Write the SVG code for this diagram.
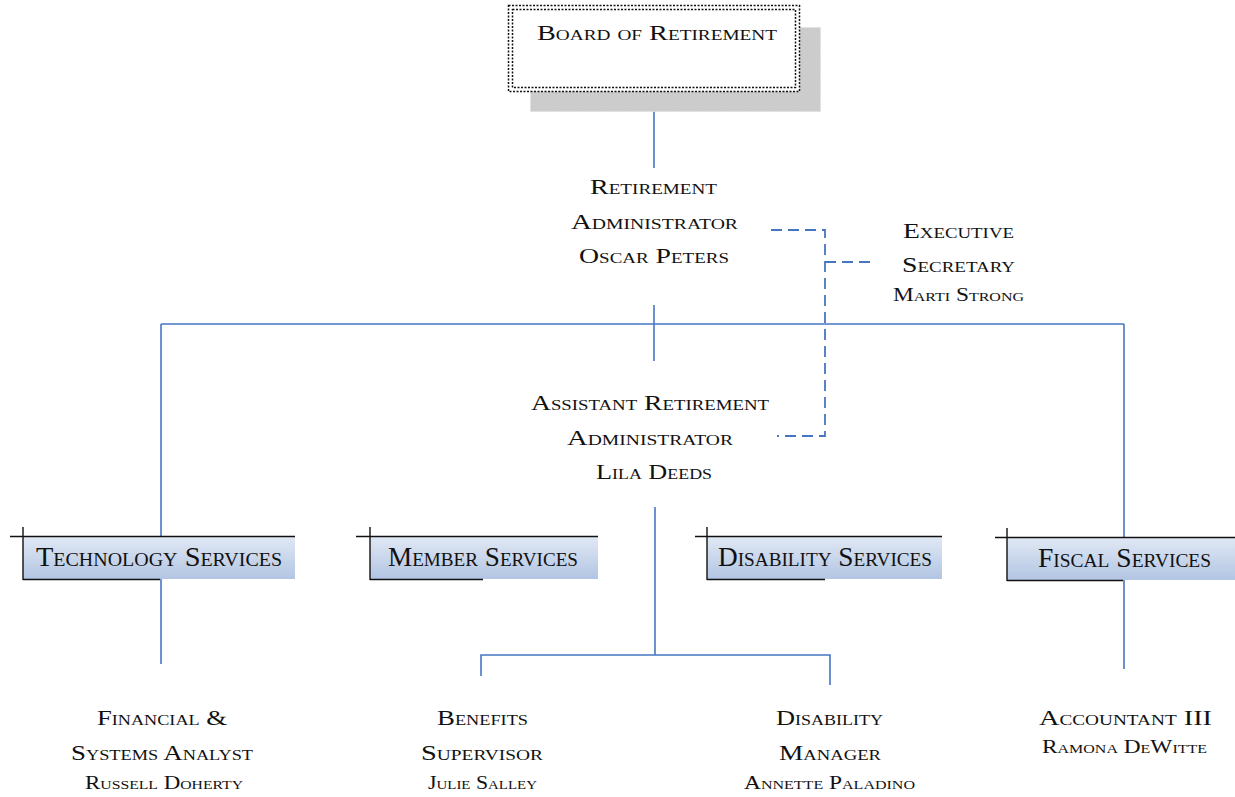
<svg xmlns="http://www.w3.org/2000/svg" width="1235" height="797" viewBox="0 0 1235 797">
<defs>
<linearGradient id="svc" x1="0" y1="0" x2="0" y2="1">
<stop offset="0" stop-color="#e0e8f4"/>
<stop offset="1" stop-color="#b2c5e3"/>
</linearGradient>
<style>
text{font-family:"Liberation Serif","Times New Roman",serif;font-variant:small-caps;fill:#111;}
.t{font-size:22px;}
.s{font-size:19px;}
.h{font-size:27px;}
.c{stroke:#4676c2;stroke-width:1.6;fill:none;}
.d{stroke:#4676c2;stroke-width:1.8;fill:none;stroke-dasharray:11,6;}
.k{stroke:#111;stroke-width:1.4;fill:none;}
.g{fill:url(#svc);}
</style>
</defs>
<rect width="1235" height="797" fill="#fff"/>
<g id="connectors">
<line class="c" x1="654" y1="92" x2="654" y2="168"/>
<line class="c" x1="654" y1="305" x2="654" y2="361"/>
<line class="c" x1="161" y1="324" x2="1124" y2="324"/>
<line class="c" x1="161" y1="324" x2="161" y2="664"/>
<line class="c" x1="1124" y1="324" x2="1124" y2="669"/>
<line class="c" x1="655" y1="507" x2="655" y2="655"/>
<polyline class="c" points="481,676 481,655 830,655 830,685"/>
<polyline class="d" points="771,230 825,230 825,436 777,436"/>
<line class="d" x1="825" y1="262" x2="874" y2="262"/>
</g>
<g id="board">
<rect x="530.5" y="27.5" width="290" height="84" fill="#cccccc" stroke="#e0e0e0" stroke-dasharray="2,1"/>
<rect x="508.5" y="5.5" width="291" height="86" fill="#fff" stroke="#111" stroke-width="1.5" stroke-dasharray="2,1.5"/>
<rect x="512.5" y="9.5" width="283" height="78" fill="none" stroke="#111" stroke-width="1.5" stroke-dasharray="2,1.5"/>
<text class="t" x="537" y="40" textLength="240" lengthAdjust="spacingAndGlyphs">Board of Retirement</text>
</g>
<g id="retirement-administrator">
<text class="t" x="590" y="194" textLength="127" lengthAdjust="spacingAndGlyphs">Retirement</text>
<text class="t" x="571" y="229" textLength="167" lengthAdjust="spacingAndGlyphs">Administrator</text>
<text class="t" x="579" y="263" textLength="150" lengthAdjust="spacingAndGlyphs">Oscar Peters</text>
</g>
<g id="executive-secretary">
<text class="t" x="903" y="238" textLength="111" lengthAdjust="spacingAndGlyphs">Executive</text>
<text class="t" x="902" y="272" textLength="113" lengthAdjust="spacingAndGlyphs">Secretary</text>
<text class="s" x="893" y="301" textLength="131" lengthAdjust="spacingAndGlyphs">Marti Strong</text>
</g>
<g id="assistant-administrator">
<text class="t" x="531" y="410" textLength="238" lengthAdjust="spacingAndGlyphs">Assistant Retirement</text>
<text class="t" x="567" y="445" textLength="166" lengthAdjust="spacingAndGlyphs">Administrator</text>
<text class="t" x="596" y="479" textLength="116" lengthAdjust="spacingAndGlyphs">Lila Deeds</text>
</g>
<g id="technology-services">
<rect class="g" x="23" y="537" width="272" height="42"/>
<line class="k" x1="10" y1="536.5" x2="295" y2="536.5"/>
<line class="k" x1="23" y1="527" x2="23" y2="580"/>
<line class="k" x1="23" y1="579.5" x2="160" y2="579.5"/>
<text class="h" x="36" y="566" textLength="246" lengthAdjust="spacingAndGlyphs">Technology Services</text>
</g>
<g id="member-services">
<rect class="g" x="370" y="537" width="228" height="42"/>
<line class="k" x1="356" y1="536.5" x2="598" y2="536.5"/>
<line class="k" x1="370" y1="527" x2="370" y2="580"/>
<line class="k" x1="370" y1="579.5" x2="483" y2="579.5"/>
<text class="h" x="388" y="566" textLength="190" lengthAdjust="spacingAndGlyphs">Member Services</text>
</g>
<g id="disability-services">
<rect class="g" x="707" y="537" width="235" height="42"/>
<line class="k" x1="695" y1="536.5" x2="942" y2="536.5"/>
<line class="k" x1="707" y1="527" x2="707" y2="580"/>
<line class="k" x1="707" y1="579.5" x2="825" y2="579.5"/>
<text class="h" x="718" y="566" textLength="214" lengthAdjust="spacingAndGlyphs">Disability Services</text>
</g>
<g id="fiscal-services">
<rect class="g" x="1007" y="538" width="228" height="42"/>
<line class="k" x1="995" y1="537.5" x2="1235" y2="537.5"/>
<line class="k" x1="1007" y1="528" x2="1007" y2="581"/>
<line class="k" x1="1007" y1="580.5" x2="1123" y2="580.5"/>
<text class="h" x="1038" y="567" textLength="173" lengthAdjust="spacingAndGlyphs">Fiscal Services</text>
</g>
<g id="financial-analyst">
<text class="t" x="97" y="725" textLength="130" lengthAdjust="spacingAndGlyphs">Financial &amp;</text>
<text class="t" x="71" y="760" textLength="182" lengthAdjust="spacingAndGlyphs">Systems Analyst</text>
<text class="s" x="85" y="789" textLength="158" lengthAdjust="spacingAndGlyphs">Russell Doherty</text>
</g>
<g id="benefits-supervisor">
<text class="t" x="437" y="725" textLength="91" lengthAdjust="spacingAndGlyphs">Benefits</text>
<text class="t" x="421" y="760" textLength="122" lengthAdjust="spacingAndGlyphs">Supervisor</text>
<text class="s" x="428" y="789" textLength="109" lengthAdjust="spacingAndGlyphs">Julie Salley</text>
</g>
<g id="disability-manager">
<text class="t" x="776" y="725" textLength="107" lengthAdjust="spacingAndGlyphs">Disability</text>
<text class="t" x="779" y="760" textLength="102" lengthAdjust="spacingAndGlyphs">Manager</text>
<text class="s" x="744" y="789" textLength="171" lengthAdjust="spacingAndGlyphs">Annette Paladino</text>
</g>
<g id="accountant">
<text class="t" x="1039" y="725" textLength="173" lengthAdjust="spacingAndGlyphs">Accountant III</text>
<text class="s" x="1042" y="753" textLength="165" lengthAdjust="spacingAndGlyphs">Ramona DeWitte</text>
</g>
</svg>
